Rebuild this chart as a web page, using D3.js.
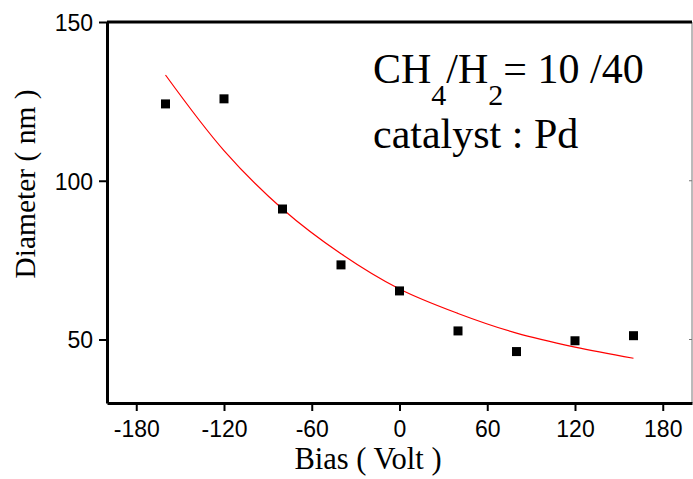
<!DOCTYPE html>
<html>
<head>
<meta charset="utf-8">
<script src="https://cdn.jsdelivr.net/npm/d3@7"></script>
<style>
html,body{margin:0;padding:0;background:#fff;}
svg{display:block;}
</style>
</head>
<body>
<svg id="chart" width="693" height="479"></svg>
<script>
// Data
const biasValues = [-160, -120, -80, -40, 0, 40, 80, 120, 160];
const diameterValues = [124.2, 125.8, 91.1, 73.5, 65.3, 52.7, 46.2, 49.6, 51.2];
const fitBias = [-160, -120, -80, -40, 0, 40, 80, 120, 160];
const fitDiameter = [133.3, 109.5, 91.1, 77.0, 65.9, 58.2, 52.0, 47.6, 44.1];
const xTicks = [-180, -120, -60, 0, 60, 120, 180];
const yTicks = [50, 100, 150];

const svg = d3.select("#chart");
const L = 107, R = 692, T = 22, B = 403;
const x = d3.scaleLinear().domain([-200, 200]).range([L, R]);
const y = d3.scaleLinear().domain([30, 150]).range([B, T]);

// frame right (thin)
svg.append("line").attr("x1", R).attr("x2", R).attr("y1", T).attr("y2", B)
  .attr("stroke", "#777").attr("stroke-width", 1);
// right inner ticks
svg.selectAll(".rt").data(yTicks.slice(0, 2)).enter().append("line")
  .attr("x1", R - 3).attr("x2", R).attr("y1", d => y(d)).attr("y2", d => y(d))
  .attr("stroke", "#777").attr("stroke-width", 1);
// top line (thick)
svg.append("line").attr("x1", L).attr("x2", R).attr("y1", T).attr("y2", T)
  .attr("stroke", "#000").attr("stroke-width", 3);

// axes
const fmt = d => String(d);
const yAxis = d3.axisLeft(y).tickValues(yTicks).tickFormat(fmt).tickSize(8).tickPadding(6).tickSizeOuter(0);
const gy = svg.append("g").attr("transform", `translate(${L},0)`).call(yAxis);
const xAxis = d3.axisBottom(x).tickValues(xTicks).tickFormat(fmt).tickSize(8).tickPadding(9).tickSizeOuter(0);
const gx = svg.append("g").attr("transform", `translate(0,${B})`).call(xAxis);

[gx, gy].forEach(g => {
  g.select(".domain").attr("stroke", "#000").attr("stroke-width", 3);
  g.selectAll(".tick line").attr("stroke", "#000").attr("stroke-width", 2);
  g.selectAll(".tick text").attr("fill", "#000")
    .style("font-family", "'Liberation Sans', Arial, sans-serif").style("font-size", "23px");
});
gy.selectAll(".tick text").attr("dy", "0.36em");
gx.selectAll(".tick text").attr("dy", "0.74em");

// fit curve
const line = d3.line().x(d => x(d[0])).y(d => y(d[1])).curve(d3.curveCatmullRom);
svg.append("path").datum(fitBias.map((b, i) => [b, fitDiameter[i]]))
  .attr("d", line).attr("fill", "none").attr("stroke", "#ff0000").attr("stroke-width", 1.2);

// data points
const s = 9;
svg.selectAll(".pt").data(biasValues.map((b, i) => [b, diameterValues[i]])).enter()
  .append("rect")
  .attr("x", d => x(d[0]) - s / 2).attr("y", d => y(d[1]) - s / 2)
  .attr("width", s).attr("height", s).attr("fill", "#000");

// axis titles
const serif = "'Liberation Serif', 'Times New Roman', serif";
svg.append("text").attr("x", 368).attr("y", 469).attr("text-anchor", "middle")
  .style("font-family", serif).style("font-size", "30.5px").attr("fill", "#000")
  .text("Bias ( Volt )");
svg.append("text").attr("transform", "translate(35,184) rotate(-90)").attr("text-anchor", "middle")
  .style("font-family", serif).style("font-size", "29.5px").attr("fill", "#000")
  .text("Diameter ( nm )");

// annotation
const ann = svg.append("text").attr("x", 373).attr("y", 83)
  .style("font-family", serif).style("font-size", "42px").attr("fill", "#000");
ann.append("tspan").text("CH");
ann.append("tspan").attr("dy", 22).style("font-size", "30px").text("4");
ann.append("tspan").attr("dy", -22).text("/H");
ann.append("tspan").attr("dy", 22).style("font-size", "30px").text("2");
ann.append("tspan").attr("dy", -22).text("= 10 /40");
svg.append("text").attr("x", 373).attr("y", 148)
  .style("font-family", serif).style("font-size", "42px").attr("fill", "#000")
  .text("catalyst : Pd");
</script>
</body>
</html>
